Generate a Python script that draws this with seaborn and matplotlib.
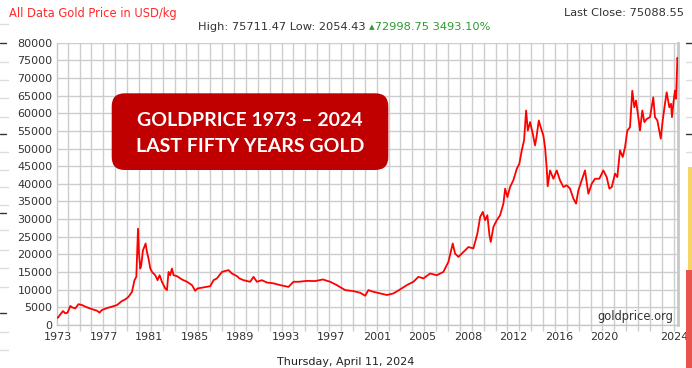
import matplotlib
matplotlib.use("Agg")
import matplotlib.pyplot as plt
from matplotlib.patches import FancyBboxPatch, Rectangle
from matplotlib.lines import Line2D
from matplotlib.ticker import FixedLocator, MultipleLocator, FuncFormatter
import pandas as pd
import seaborn as sns

# Gold price in USD per kilogram, sampled along the full history
years = [
    1973.00, 1973.05, 1973.25, 1973.47, 1973.66, 1973.85, 1974.08, 1974.22, 1974.49, 1974.76,
    1975.05, 1975.46, 1975.87, 1976.29, 1976.50, 1976.70, 1977.12, 1977.53, 1977.95, 1978.36,
    1978.63, 1978.91, 1979.19, 1979.40, 1979.55, 1979.69, 1979.77, 1979.88, 1979.96, 1980.10,
    1980.21, 1980.32, 1980.43, 1980.56, 1980.71, 1980.85, 1981.12, 1981.31, 1981.48, 1981.67,
    1981.95, 1982.09, 1982.22, 1982.36, 1982.50, 1982.64, 1982.92, 1983.33, 1983.75, 1984.16,
    1984.43, 1984.62, 1985.12, 1985.68, 1985.95, 1986.23, 1986.65, 1987.19, 1987.47, 1987.89,
    1988.10, 1988.44, 1988.99, 1989.26, 1989.55, 1989.96, 1990.37, 1990.92, 1991.48, 1992.16,
    1992.58, 1992.99, 1993.69, 1994.38, 1995.01, 1995.62, 1996.17, 1996.86, 1997.55, 1998.10,
    1998.52, 1998.79, 1999.21, 1999.76, 2000.32, 2000.86, 2001.42, 2001.97, 2002.52, 2002.93,
    2003.35, 2003.90, 2004.46, 2005.00, 2005.42, 2005.78, 2005.97, 2006.25, 2006.66, 2007.08,
    2007.49, 2007.82, 2008.05, 2008.27, 2008.46, 2008.65, 2008.82, 2008.93, 2009.15, 2009.43,
    2009.70, 2009.98, 2010.12, 2010.31, 2010.53, 2010.80, 2011.09, 2011.30, 2011.50, 2011.69,
    2011.86, 2012.00, 2012.19, 2012.41, 2012.60, 2012.74, 2012.91, 2013.07, 2013.29, 2013.43,
    2013.57, 2013.65, 2013.84, 2014.12, 2014.40, 2014.67, 2014.95, 2015.23, 2015.50, 2015.78,
    2016.00, 2016.19, 2016.47, 2016.74, 2017.02, 2017.30, 2017.57, 2017.93, 2018.26, 2018.54,
    2018.76, 2018.96, 2019.23, 2019.42, 2019.64, 2019.87, 2020.06, 2020.25, 2020.47, 2020.66,
    2020.83, 2020.97, 2021.16, 2021.30, 2021.49, 2021.66, 2021.86, 2022.13, 2022.40, 2022.54,
    2022.74, 2022.90, 2023.02, 2023.18, 2023.37, 2023.51, 2023.73, 2023.87, 2023.95, 2024.12,
    2024.20, 2024.28, 2024.34, 2024.40, 2024.45,
]
prices = [
    2089.80, 2054.43, 3000, 3950, 3300, 3500, 5400, 5000, 4700, 5900,
    5650, 5000, 4500, 4050, 3500, 4250, 4800, 5200, 5650, 6800,
    7250, 8000, 9400, 12700, 13650, 27300, 20250, 16000, 17000, 21200,
    22100, 23100, 20700, 18850, 16000, 15050, 14100, 12700, 14100, 12250,
    10350, 9900, 15050, 14100, 16000, 14100, 13850, 12900, 12250, 11300,
    9700, 10350, 10650, 11000, 12700, 13200, 15050, 15550, 14600, 13850,
    13200, 12700, 12250, 13650, 12250, 12700, 12050, 11800, 11300, 10800,
    12250, 12250, 12500, 12450, 12900, 12250, 11300, 9900, 9600, 9150,
    8300, 9900, 9400, 8950, 8500, 8950, 10100, 11300, 12250, 13650,
    13200, 14600, 14100, 15050, 17900, 23100, 20250, 19300, 20700, 22100,
    21700, 25900, 30600, 32050, 29700, 31100, 25450, 23550, 27800, 29700,
    31100, 34400, 38650, 36250, 39100, 41000, 44300, 45700, 49500, 52300,
    60800, 55100, 57500, 54200, 50900, 53700, 57950, 56050, 53700, 50400,
    44300, 39300, 43800, 41450, 43800, 41000, 39100, 39600, 38650, 35800,
    34400, 38150, 41000, 43800, 37200, 40050, 41450, 41450, 43800, 41900,
    38650, 39100, 42900, 41900, 49500, 47600, 50400, 55100, 56050, 66400,
    61700, 63600, 58900, 55100, 60800, 57500, 58400, 58900, 64500, 58900,
    57950, 55100, 52800, 57950, 62700, 65950, 61700, 62700, 58900, 64500,
    66400, 64100, 69250, 75711.47, 75088.55,
]

x_tick_labels = ["1973", "1977", "1981", "1985", "1989", "1993", "1997",
                 "2001", "2005", "2008", "2012", "2016", "2020", "2024"]
y_ticks = list(range(0, 80001, 5000))

title_text = "All Data Gold Price in USD/kg"
date_text = "Thursday, April 11, 2024"
source_text = "goldprice.org"
banner_lines = ["GOLDPRICE 1973 \u2013 2024", "LAST FIFTY YEARS GOLD"]

sns.set_theme(style="white")
plt.rcParams["font.family"] = ["DejaVu Sans"]

W, H = 692, 368
fig = plt.figure(figsize=(W / 100, H / 100), dpi=100)
fig.patch.set_facecolor("white")

ax_left, ax_right, ax_top, ax_bottom = 57.3, 678.0, 42.7, 325.0
ax = fig.add_axes([ax_left / W, 1 - ax_bottom / H,
                   (ax_right - ax_left) / W, (ax_bottom - ax_top) / H])

df = pd.DataFrame({"year": years, "price": prices})
sns.lineplot(data=df, x="year", y="price", ax=ax, color="#ff0000",
             linewidth=1.3, estimator=None, sort=False, zorder=3)

x0, x1 = years[0], years[-1]
ax.set_xlim(x0, x1)
ax.set_ylim(0, 80000)
px_per_year = (ax_right - ax_left) / (x1 - x0)

# evenly spaced year labels, with the last one pinned near the right edge
label_step = 45.5 / px_per_year
major = [x0 + (1.0 / px_per_year) + k * label_step for k in range(13)]
major.append(x0 + (674.0 - ax_left) / px_per_year)
ax.xaxis.set_major_locator(FixedLocator(major))
ax.set_xticklabels(x_tick_labels)

grid_step = 11.885 / px_per_year
grid_start = x0 + (103.3 - ax_left) / px_per_year
minor = []
g = grid_start
while g - grid_step > x0:
    g -= grid_step
while g < x1:
    minor.append(g)
    g += grid_step
ax.xaxis.set_minor_locator(FixedLocator(minor))

ax.set_yticks(y_ticks)
ax.yaxis.set_major_formatter(FuncFormatter(lambda v, p: f"{int(v)}"))

grid_c = "#cdcdcd"
ax.grid(False)
ax.grid(True, which="minor", axis="x", color=grid_c, linewidth=1.0)
ax.grid(True, which="major", axis="y", color=grid_c, linewidth=1.0)
ax.set_axisbelow(True)

ax.tick_params(axis="x", which="major", length=0, pad=5, labelsize=8,
               labelcolor="#333333")
ax.tick_params(axis="x", which="minor", length=4, width=1, color=grid_c,
               direction="out", bottom=True)
ax.tick_params(axis="y", which="major", length=0, pad=3.5, labelsize=8,
               labelcolor="#333333")
for lbl in ax.get_xticklabels():
    lbl.set_clip_on(False)

for side in ["left", "bottom", "right"]:
    ax.spines[side].set_color("#c8c8c8")
    ax.spines[side].set_linewidth(1.0)
ax.spines["right"].set_linewidth(2.0)
ax.spines["top"].set_visible(False)
ax.set_xlabel("")
ax.set_ylabel("")

# source mark in the lower right corner of the plot
ax.text((673.5 - ax_left) / (ax_right - ax_left), (ax_bottom - 320.0) / (ax_bottom - ax_top),
        source_text, transform=ax.transAxes, ha="right", va="baseline",
        fontsize=8.3, color="#333333", zorder=4)

# header line
fig.text(9 / W, 1 - 13 / H, title_text, ha="left", va="center",
         fontsize=8.3, color="#ff2a2a")

first, last = prices[0], prices[-1]
high, low = max(prices), min(prices)
change = last - first
pct = change / first * 100

stats_text = f"High: {high:.2f} Low: {low:.2f} "
gain_text = f"\u25b4{change:.2f} {pct:.2f}%"
t1 = fig.text(198 / W, 1 - 26.5 / H, stats_text, ha="left", va="center",
              fontsize=8.2, color="#333333")
fig.canvas.draw()
r = fig.canvas.get_renderer()
bb = t1.get_window_extent(renderer=r)
fig.text(bb.x1 / W, 1 - 26.5 / H, gain_text, ha="left", va="center",
         fontsize=8.2, color="#2e9b2e")

fig.text(684 / W, 1 - 13 / H, f"Last Close: {last:.2f}", ha="right",
         va="center", fontsize=8.2, color="#333333")

fig.text(346 / W, 1 - 362 / H, date_text, ha="center", va="center",
         fontsize=8, color="#222222")

# red banner
bx0, bx1, by0, by1 = 111.7, 388.3, 93.3, 170.0
banner = FancyBboxPatch((bx0 / W, 1 - by1 / H), (bx1 - bx0) / W, (by1 - by0) / H,
                        boxstyle=f"round,pad=0,rounding_size={13 / W}",
                        mutation_aspect=W / H, transform=fig.transFigure,
                        facecolor="#c00000", edgecolor="none", zorder=5)
fig.patches.append(banner)
for line, base in zip(banner_lines, [125.7, 151.7]):
    fig.text((bx0 + bx1) / 2 / W, 1 - base / H, line, ha="center", va="baseline",
             fontsize=14, fontweight="bold", color="white",
             family=["Lato", "DejaVu Sans"], zorder=6)

# neighbouring panel edges
for y in [42.7, 134.0, 212.7, 313.0]:
    fig.add_artist(Line2D([0, 6 / W], [1 - y / H] * 2, transform=fig.transFigure,
                          color="#333333", linewidth=1.0))
for y in [24.3, 61.7, 80.0, 98.3, 116.7, 151.7, 170.0, 186.7, 205.0,
          230.0, 250.0, 268.3, 286.7, 331.7, 350.0]:
    fig.add_artist(Line2D([0, 8 / W], [1 - y / H] * 2, transform=fig.transFigure,
                          color="#dcdcdc", linewidth=1.0))
for y in [42.7, 134.0]:
    fig.add_artist(Line2D([686 / W, 1], [1 - y / H] * 2, transform=fig.transFigure,
                          color="#333333", linewidth=1.0))
for y in [61.7, 80.0, 98.3, 116.7, 151.7]:
    fig.add_artist(Line2D([686 / W, 1], [1 - y / H] * 2, transform=fig.transFigure,
                          color="#dcdcdc", linewidth=1.0))
fig.patches.append(Rectangle((688 / W, 1 - 270 / H), 4 / W, 103 / H,
                             transform=fig.transFigure, facecolor="#f7d565",
                             edgecolor="none"))
fig.patches.append(Rectangle((686 / W, 0), 6 / W, 1 - 270 / H,
                             transform=fig.transFigure, facecolor="#e8544b",
                             edgecolor="none"))

fig.savefig("out.png", dpi=100, facecolor="white")
